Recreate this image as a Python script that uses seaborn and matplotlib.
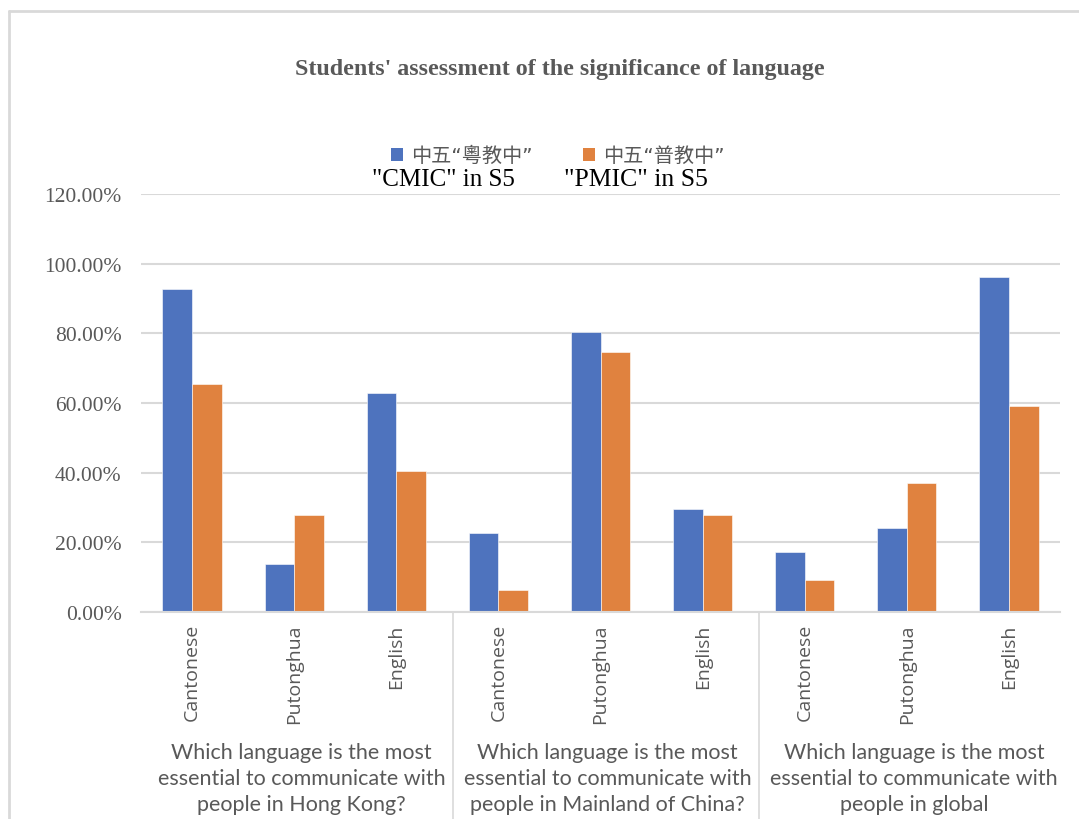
import matplotlib
matplotlib.use("Agg")
import matplotlib.pyplot as plt
from matplotlib.patches import Patch
from matplotlib.lines import Line2D
import seaborn as sns
import pandas as pd

# Survey results: share of students choosing each language
groups = [
    "Which language is the most\nessential to communicate with\npeople in Hong Kong?",
    "Which language is the most\nessential to communicate with\npeople in Mainland of China?",
    "Which language is the most\nessential to communicate with\npeople in global",
]
languages = ["Cantonese", "Putonghua", "English"]
series_cn = ["中五“粵教中”", "中五“普教中”"]
series_en = ['"CMIC" in S5', '"PMIC" in S5']
cmic = [92.7, 13.8, 62.8, 22.7, 80.3, 29.6, 17.2, 24.1, 96.1]
pmic = [65.4, 27.8, 40.5, 6.3, 74.6, 27.8, 9.2, 37.0, 59.1]
y_ticks = [0, 20, 40, 60, 80, 100, 120]

colors = ["#4E73BE", "#E0823F"]
grey = "#595959"
grid_c = "#D9D9D9"

sns.set_theme(style="white")
plt.rcParams["font.family"] = ["Lato", "DejaVu Sans"]

keys = [f"{g}|{l}" for g in range(len(groups)) for l in languages]
rows = []
for k, a, b in zip(keys, cmic, pmic):
    rows.append({"key": k, "series": series_cn[0], "value": a})
    rows.append({"key": k, "series": series_cn[1], "value": b})
df = pd.DataFrame(rows)

fig = plt.figure(figsize=(10.79, 8.20), dpi=100)
ax = fig.add_axes([0.1307, 0.2524, 0.9824 - 0.1307, 0.7622 - 0.2524])

sns.barplot(data=df, x="key", y="value", hue="series", order=keys,
            hue_order=series_cn, palette=colors, width=0.58, ax=ax,
            legend=False, saturation=1, edgecolor="white", linewidth=0.4)

ax.set_xlim(-0.5, len(keys) - 0.5)
ax.set_ylim(0, 120)
ax.set_yticks(y_ticks)
ax.set_yticklabels([f"{v:.2f}%" for v in y_ticks], family="Liberation Serif",
                   fontsize=15.5, color=grey)
ax.set_xticks(range(len(keys)))
ax.set_xticklabels([l for _ in groups for l in languages], rotation=90,
                   fontsize=14, color=grey, va="top", family="Open Sans")
ax.tick_params(axis="x", length=0, pad=8)
ax.tick_params(axis="y", length=0, pad=14)
ax.set_xlabel("")
ax.set_ylabel("")
ax.grid(axis="y", color=grid_c, linewidth=1.5)
ax.set_axisbelow(True)
for s in ["top", "right", "left"]:
    ax.spines[s].set_visible(False)
ax.spines["bottom"].set_color(grid_c)
ax.spines["bottom"].set_linewidth(1.5)

# Group separators below the axis
for xs in [2.56, 5.55]:
    ax.add_line(Line2D([xs, xs], [0, -62], color=grid_c, linewidth=1.2,
                       clip_on=False))

# Group captions
for i, g in enumerate(groups):
    ax.text(3 * i + 1 + 0.07, -47.6, g, ha="center", va="center",
            fontsize=15.5, color=grey, linespacing=1.36,
            transform=ax.transData, clip_on=False)

# Title
fig.text(0.519, 0.915, "Students' assessment of the significance of language",
         family="Liberation Serif", fontweight="bold", fontsize=17.3,
         color=grey, ha="center", va="center")

# Legend
handles = [Patch(facecolor=c, edgecolor="none") for c in colors]
leg = fig.legend(handles, series_cn, loc="center left",
                 bbox_to_anchor=(0.353, 0.809), ncol=2, frameon=False,
                 handlelength=0.6, handleheight=0.6, handletextpad=0.4,
                 columnspacing=2.5, borderpad=0, prop={"size": 14.5})
for t in leg.get_texts():
    t.set_color(grey)
    t.set_fontfamily(["DejaVu Sans", "Noto Sans CJK TC"])
fig.text(0.345, 0.781, series_en[0], family="Liberation Serif",
         fontsize=18, color="black", ha="left", va="center")
fig.text(0.523, 0.781, series_en[1], family="Liberation Serif",
         fontsize=18.5, color="black", ha="left", va="center")

# Chart frame (left and top edges)
fig.add_artist(Line2D([9 / 1079, 9 / 1079], [0, 1 - 12 / 820],
                      transform=fig.transFigure, color=grid_c, linewidth=2))
fig.add_artist(Line2D([9 / 1079, 1], [1 - 12 / 820, 1 - 12 / 820],
                      transform=fig.transFigure, color=grid_c, linewidth=2))

fig.savefig("out.png", dpi=100, facecolor="white")
